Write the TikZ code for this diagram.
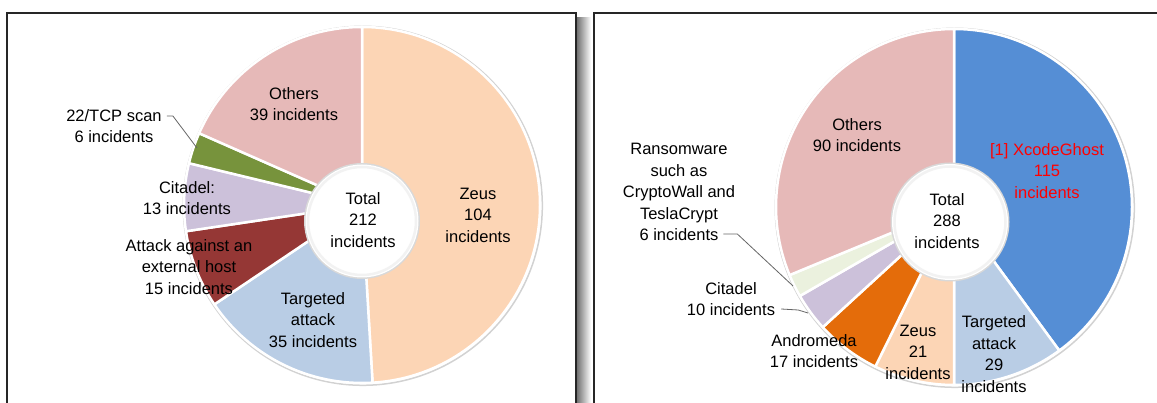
\documentclass[tikz,border=0pt]{standalone}
\usepackage{fontspec}
\setmainfont{Liberation Sans}
\usetikzlibrary{calc}
\definecolor{zeusC}{HTML}{FCD5B5}
\definecolor{othersC}{HTML}{E6B9B8}
\definecolor{targC}{HTML}{B9CDE5}
\definecolor{attackC}{HTML}{953735}
\definecolor{citC}{HTML}{CCC1DA}
\definecolor{tcpC}{HTML}{77933C}
\definecolor{xcodeC}{HTML}{558ED5}
\definecolor{androC}{HTML}{E46C0A}
\definecolor{ransC}{HTML}{EBF1DE}
\definecolor{xred}{HTML}{FF0000}
\newcommand\dslice[5]{\filldraw[fill=#5, slicestroke] (#1) -- ($(#1)+(#3:#2)$) arc[start angle=#3, end angle=#4, radius=#2] -- cycle;}
\begin{document}
\begin{tikzpicture}[x=1pt,y=1pt,
  lbl/.style={align=center, inner sep=0pt, font=\fontsize{16.5}{21.5}\selectfont, text=black},
  leader/.style={draw=black!60, line width=0.8pt},
  slicestroke/.style={draw=white, line width=2.5pt, line join=round},
  frame/.style={draw=black!85, line width=1.8pt}]
\useasboundingbox (0,0) rectangle (1157,403);
\fill[white] (0,0) rectangle (1157,403);
% shadow between panels
\shade[left color=black!55, right color=white] (577,-2) rectangle (591,385);
% frames
\draw[frame] (7,-5) -- (7,390) -- (576,390) -- (576,-5);
\draw[frame] (1165,390) -- (594,390) -- (594,-5);

% ---------- left donut ----------
\coordinate (cL) at (362,198);
\coordinate (hL) at (362,182);
\draw[gray!35, line width=1.5pt] ($(cL)+(0.8,-0.8)$) circle (179.5);
\dslice{cL}{178}{90}{-86.60}{zeusC}
\dslice{cL}{178}{-86.60}{-146.04}{targC}
\dslice{cL}{178}{-146.04}{-171.51}{attackC}
\dslice{cL}{178}{-171.51}{-193.58}{citC}
\dslice{cL}{178}{-193.58}{-203.77}{tcpC}
\dslice{cL}{178}{-203.77}{-270}{othersC}
\fill[gray!30] (hL) circle (58);
\fill[white] (hL) circle (56.5);
\draw[gray!10, line width=2.5pt] (hL) circle (54);

\node[lbl] (othersL) at (294,299) {Others\\39 incidents};
\node[lbl] (tcp) at (114,277) {22/TCP scan\\6 incidents};
\node[lbl] (citL) at (187,205) {Citadel:\\13 incidents};
\node[lbl] (attack) at (189,136) {Attack against an\\external host\\15 incidents};
\node[lbl] (targL) at (313,83) {Targeted\\attack\\35 incidents};
\node[lbl] (zeusL) at (478,188) {Zeus\\104\\incidents};
\node[lbl] (totalL) at (363,183) {Total\\212\\incidents};
\coordinate (tcpEnd) at (197,255);
\draw[leader] ($(tcp.north east)+(5,-7)$) -- ($(tcp.north east)+(11,-7)$) -- (tcpEnd);

% ---------- right donut ----------
\coordinate (cR) at (954,196);
\coordinate (hR) at (950,181);
\draw[gray!35, line width=1.5pt] ($(cR)+(0.8,-0.8)$) circle (179.5);
\dslice{cR}{178}{90}{-53.75}{xcodeC}
\dslice{cR}{178}{-53.75}{-90}{targC}
\dslice{cR}{178}{-90}{-116.25}{zeusC}
\dslice{cR}{178}{-116.25}{-137.5}{androC}
\dslice{cR}{178}{-137.5}{-150}{citC}
\dslice{cR}{178}{-150}{-157.5}{ransC}
\dslice{cR}{178}{-157.5}{-270}{othersC}
\fill[gray!30] (hR) circle (59.5);
\fill[white] (hR) circle (58);
\draw[gray!10, line width=2.5pt] (hR) circle (55.5);

\node[lbl] (othersR) at (857,268) {Others\\90 incidents};
\node[lbl, text=xred] (xcode) at (1047,232) {[1] XcodeGhost\\115\\incidents};
\node[lbl] (rans) at (679,211) {Ransomware\\such as\\CryptoWall and\\TeslaCrypt\\6 incidents};
\node[lbl] (citR) at (731,104) {Citadel\\10 incidents};
\node[lbl] (andro) at (814,52) {Andromeda\\17 incidents};
\node[lbl] (zeusR) at (918,51) {Zeus\\21\\incidents};
\node[lbl] (targR) at (994,49) {Targeted\\attack\\29\\incidents};
\node[lbl] (totalR) at (947,182) {Total\\288\\incidents};
\coordinate (ransEnd) at (793,117);
\coordinate (citEnd) at (808,90);
\draw[leader] ($(rans.south east)+(-12,7)$) -- ($(rans.south east)+(2,7)$) -- (ransEnd);
\draw[leader] ($(citR.south east)+(6,7)$) -- ($(citR.south east)+(23,6)$) -- (citEnd);
\end{tikzpicture}
\end{document}
